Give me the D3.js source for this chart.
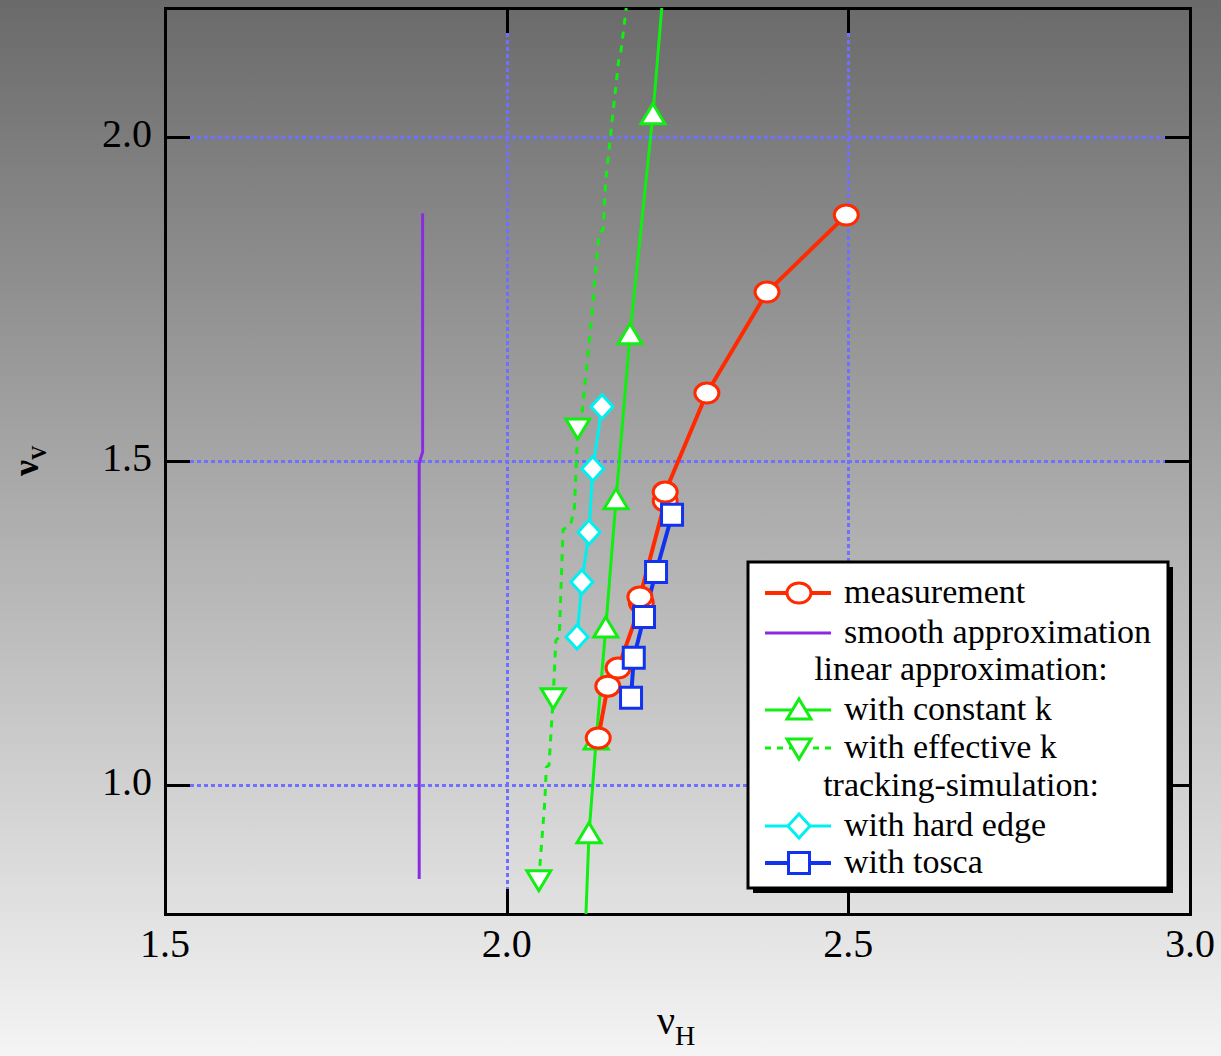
<!DOCTYPE html>
<html>
<head>
<meta charset="utf-8">
<script src="https://cdn.jsdelivr.net/npm/d3@7"></script>
<style>
    html, body { margin: 0; padding: 0; }
    body { width: 1221px; height: 1056px; overflow: hidden; }
    text { font-family: "Liberation Serif", "DejaVu Serif", serif; }
</style>
</head>
<body>
<div id="content"></div>
<script>
// tune values nuH / nuV
const measurement = [[2.134, 1.072], [2.148, 1.152], [2.163, 1.180], [2.197, 1.281], [2.195, 1.290],
    [2.232, 1.438], [2.232, 1.452], [2.293, 1.605], [2.381, 1.761], [2.497, 1.880]];
const smoothApprox = [[1.872, 0.854], [1.872, 1.497], [1.877, 1.514], [1.877, 1.883]];
const constantK = [[2.116, 0.80], [2.1205, 0.924], [2.131, 1.069], [2.145, 1.242], [2.160, 1.440],
    [2.1805, 1.695], [2.214, 2.035], [2.227, 2.20]];
const effectiveK = [[2.047, 0.853], [2.056, 0.976], [2.058, 1.027], [2.062, 1.030], [2.068, 1.134],
    [2.072, 1.223], [2.077, 1.228], [2.0825, 1.394], [2.093, 1.400], [2.099, 1.424], [2.104, 1.551],
    [2.110, 1.571], [2.125, 1.729], [2.135, 1.852], [2.141, 1.857], [2.145, 1.934], [2.164, 2.120],
    [2.167, 2.131], [2.175, 2.20]];
const effectiveKMarks = [[2.047, 0.853], [2.068, 1.134], [2.104, 1.551]];
const hardEdge = [[2.103, 1.228], [2.110, 1.313], [2.1205, 1.390], [2.126, 1.488], [2.1395, 1.584]];
const tosca = [[2.182, 1.134], [2.186, 1.196], [2.201, 1.259], [2.2186, 1.3285], [2.242, 1.417]];

const xTicks = [1.5, 2.0, 2.5, 3.0];
const yTicks = [1.0, 1.5, 2.0];
const xLabels = ['1.5', '2.0', '2.5', '3.0'];
const yLabels = ['1.0', '1.5', '2.0'];

const legendItems = [
    {label: 'measurement', key: 'measurement'},
    {label: 'smooth approximation', key: 'smooth'},
    {label: 'linear approximation:', key: null},
    {label: 'with constant k', key: 'constK'},
    {label: 'with effective k', key: 'effK'},
    {label: 'tracking-simulation:', key: null},
    {label: 'with hard edge', key: 'hard'},
    {label: 'with tosca', key: 'tosca'}
];

const W = 1221, H = 1056;
const plot = {left: 165, right: 1190, top: 8, bottom: 914};
const tickLen = 25;

const styles = {
    measurement: {color: '#ff2a00', width: 4, dash: null, marker: 'circle'},
    smooth: {color: '#8a2be2', width: 3, dash: null, marker: null},
    constK: {color: '#11ee11', width: 3, dash: null, marker: 'up'},
    effK: {color: '#11ee11', width: 3, dash: '7,7', marker: 'down'},
    hard: {color: '#00f0f0', width: 3, dash: null, marker: 'diamond'},
    tosca: {color: '#1133ee', width: 4, dash: null, marker: 'square'}
};

const markerPath = {
    circle: 'M-12,0 A12,10 0 1,0 12,0 A12,10 0 1,0 -12,0 Z',
    up: 'M0,-11 L12,9 L-12,9 Z',
    down: 'M0,11 L12,-9 L-12,-9 Z',
    diamond: 'M0,-12 L11,0 L0,12 L-11,0 Z',
    square: 'M-10.5,-10.5 L10.5,-10.5 L10.5,10.5 L-10.5,10.5 Z'
};

const xScale = d3.scaleLinear().domain([1.5, 3.0]).range([plot.left, plot.right]);
const yScale = d3.scaleLinear().domain([0.8, 2.2]).range([plot.bottom, plot.top]);
// crisp position for 3px strokes
const px = v => Math.round(v) + 0.5;

const svg = d3.select('#content').append('svg')
    .attr('width', W)
    .attr('height', H);

// page background gradient
const defs = svg.append('defs');
const grad = defs.append('linearGradient')
    .attr('id', 'bg').attr('x1', 0).attr('y1', 0).attr('x2', 0).attr('y2', 1);
grad.append('stop').attr('offset', '0%').attr('stop-color', '#6a6a6a');
grad.append('stop').attr('offset', '100%').attr('stop-color', '#f4f4f4');
svg.append('rect').attr('width', W).attr('height', H).attr('fill', 'url(#bg)');

defs.append('clipPath').attr('id', 'plotclip')
    .append('rect')
    .attr('x', plot.left).attr('y', plot.top)
    .attr('width', plot.right - plot.left).attr('height', plot.bottom - plot.top);

// grid
const grid = svg.append('g').attr('class', 'grid')
    .attr('stroke', '#7070ff').attr('stroke-width', 3).attr('stroke-dasharray', '4,3');
grid.selectAll('.vg').data(xTicks.filter(t => t > 1.5 && t < 3.0)).enter().append('line')
    .attr('x1', d => px(xScale(d))).attr('x2', d => px(xScale(d)))
    .attr('y1', plot.top + tickLen).attr('y2', plot.bottom - tickLen);
grid.selectAll('.hg').data(yTicks).enter().append('line')
    .attr('y1', d => px(yScale(d))).attr('y2', d => px(yScale(d)))
    .attr('x1', plot.left + tickLen).attr('x2', plot.right - tickLen);

// frame and inward ticks
const axes = svg.append('g').attr('stroke', '#000').attr('stroke-width', 3);
axes.append('rect')
    .attr('x', px(plot.left)).attr('y', px(plot.top))
    .attr('width', plot.right - plot.left).attr('height', plot.bottom - plot.top)
    .attr('fill', 'none');
xTicks.forEach(t => {
    axes.append('line').attr('x1', px(xScale(t))).attr('x2', px(xScale(t)))
        .attr('y1', plot.bottom).attr('y2', plot.bottom - tickLen);
    axes.append('line').attr('x1', px(xScale(t))).attr('x2', px(xScale(t)))
        .attr('y1', plot.top).attr('y2', plot.top + tickLen);
});
yTicks.forEach(t => {
    axes.append('line').attr('y1', px(yScale(t))).attr('y2', px(yScale(t)))
        .attr('x1', plot.left).attr('x2', plot.left + tickLen);
    axes.append('line').attr('y1', px(yScale(t))).attr('y2', px(yScale(t)))
        .attr('x1', plot.right).attr('x2', plot.right - tickLen);
});

// tick labels
svg.selectAll('.xl').data(xTicks).enter().append('text')
    .attr('x', d => xScale(d)).attr('y', plot.bottom + 43)
    .attr('text-anchor', 'middle').attr('font-size', 40)
    .text((d, i) => xLabels[i]);
svg.selectAll('.yl').data(yTicks).enter().append('text')
    .attr('x', plot.left - 13).attr('y', d => yScale(d) + 10)
    .attr('text-anchor', 'end').attr('font-size', 40)
    .text((d, i) => yLabels[i]);

// axis titles
const xt = svg.append('text').attr('x', 657).attr('y', 1034).attr('font-size', 40);
xt.append('tspan').text('ν');
xt.append('tspan').attr('font-size', 28).attr('dy', 11).text('H');

const yt = svg.append('text').attr('transform', 'translate(38,476) rotate(-90)')
    .attr('font-size', 36).attr('font-weight', 'bold');
yt.append('tspan').text('ν');
yt.append('tspan').attr('font-size', 20).attr('dy', 8).text('V');

// series
const line = d3.line().x(d => xScale(d[0])).y(d => yScale(d[1]));
const series = svg.append('g').attr('clip-path', 'url(#plotclip)');

function drawLine(data, st) {
    series.append('path')
        .datum(data)
        .attr('fill', 'none')
        .attr('stroke', st.color)
        .attr('stroke-width', st.width)
        .attr('stroke-dasharray', st.dash)
        .attr('stroke-linejoin', 'round')
        .attr('d', line);
}

function drawMarks(data, st) {
    series.selectAll(null).data(data).enter().append('path')
        .attr('transform', d => 'translate(' + xScale(d[0]) + ',' + yScale(d[1]) + ')')
        .attr('d', markerPath[st.marker])
        .attr('fill', '#fff')
        .attr('stroke', st.color)
        .attr('stroke-width', 3);
}

drawLine(smoothApprox, styles.smooth);
drawLine(effectiveK, styles.effK);
drawLine(constantK, styles.constK);
drawLine(hardEdge, styles.hard);
drawLine(measurement, styles.measurement);
drawLine(tosca, styles.tosca);

drawMarks(effectiveKMarks, styles.effK);
drawMarks(constantK.filter(d => d[1] > 0.8 && d[1] < 2.2), styles.constK);
drawMarks(hardEdge, styles.hard);
drawMarks(measurement, styles.measurement);
drawMarks(tosca, styles.tosca);

// legend
const lg = {x: 748, y: 562, w: 420, h: 326};
const legend = svg.append('g');
legend.append('rect')
    .attr('x', lg.x + 5).attr('y', lg.y + 5).attr('width', lg.w).attr('height', lg.h)
    .attr('fill', '#000');
legend.append('rect')
    .attr('x', lg.x).attr('y', lg.y).attr('width', lg.w).attr('height', lg.h)
    .attr('fill', '#fff').attr('stroke', '#000').attr('stroke-width', 3);

const rowY = [593, 633, 670, 710, 748, 786, 826, 863];
legendItems.forEach((item, i) => {
    const y = rowY[i];
    if (item.key === null) {
        legend.append('text').attr('x', 961).attr('y', y + 10)
            .attr('text-anchor', 'middle').attr('font-size', 34).text(item.label);
        return;
    }
    const st = styles[item.key];
    legend.append('line')
        .attr('x1', 765).attr('x2', 831).attr('y1', y).attr('y2', y)
        .attr('stroke', st.color).attr('stroke-width', st.width)
        .attr('stroke-dasharray', st.dash ? '6,6' : null);
    if (st.marker) {
        legend.append('path')
            .attr('transform', 'translate(799,' + y + ')')
            .attr('d', markerPath[st.marker])
            .attr('fill', '#fff').attr('stroke', st.color).attr('stroke-width', 3);
    }
    legend.append('text').attr('x', 844).attr('y', y + 10)
        .attr('font-size', 34).text(item.label);
});
</script>
</body>
</html>
